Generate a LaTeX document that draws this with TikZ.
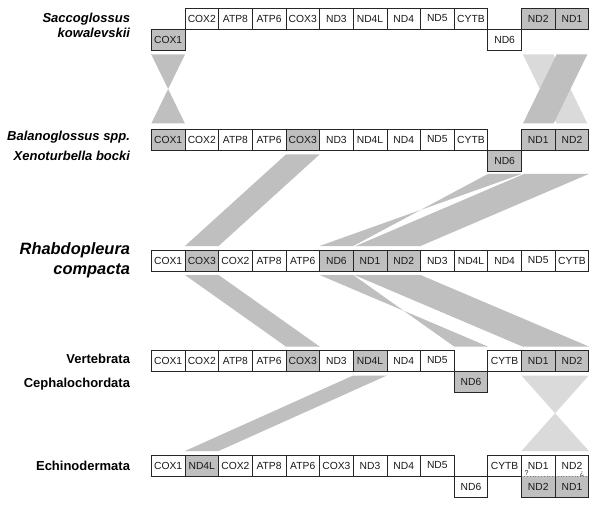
\documentclass[tikz,border=0pt]{standalone}
\usepackage{fontspec}
\setmainfont{Liberation Sans}
\usetikzlibrary{calc}
\definecolor{boxgray}{gray}{0.75}
\definecolor{bandgray}{gray}{0.75}
\definecolor{lightband}{gray}{0.855}
\tikzset{
  boxline/.style={draw=black!85, line width=0.7bp},
  gene/.style={boxline, minimum width=33.65bp, minimum height=21bp, inner sep=0pt, outer sep=0pt,
    anchor=north west, font=\fontsize{10.3bp}{12bp}\selectfont, text=black!90},
  hl/.style={gene, fill=boxgray},
  species/.style={font=\fontsize{13bp}{14.5bp}\selectfont\bfseries\itshape, inner sep=0pt, outer sep=0pt},
  bigspecies/.style={font=\fontsize{16.4bp}{19.8bp}\selectfont\bfseries\itshape, inner sep=0pt, outer sep=0pt},
  taxon/.style={font=\fontsize{13bp}{14.5bp}\selectfont\bfseries, inner sep=0pt, outer sep=0pt},
  band/.style={fill=bandgray},
  lband/.style={fill=lightband},
  tiny/.style={font=\fontsize{7bp}{8bp}\selectfont, inner sep=0pt, outer sep=0pt, text=black!85},
}
\begin{document}
\begin{tikzpicture}[x=1bp,y=-1bp]
\useasboundingbox (0,0) rectangle (600,505);
\fill[white] (0,0) rectangle (600,505);

% ---------- labels ----------
\node[species, anchor=north east, align=right] (sacc) at (130,13.3) {Saccoglossus\\kowalevskii};
\node[species, anchor=base east] (bala) at (130,140.3) {Balanoglossus spp.};
\node[species, anchor=base east] (xeno) at (130,160.5) {Xenoturbella bocki};
\node[bigspecies, anchor=north east, align=right] (rhab) at (130,242.7) {Rhabdopleura\\compacta};
\node[taxon, anchor=base east] (vert) at (130,363.3) {Vertebrata};
\node[taxon, anchor=base east] (ceph) at (130,387) {Cephalochordata};
\node[taxon, anchor=base east] (echi) at (130,470) {Echinodermata};

% ---------- row 1: Saccoglossus ----------
\node[hl]   (r1cox1) at (151.3,29) {COX1};
\node[gene] (r1cox2) at (184.95,8) {COX2};
\node[gene] (r1atp8) at (218.6,8) {ATP8};
\node[gene] (r1atp6) at (252.25,8) {ATP6};
\node[gene] (r1cox3) at (285.9,8) {COX3};
\node[gene] (r1nd3)  at (319.55,8) {ND3};
\node[gene] (r1nd4l) at (353.2,8) {ND4L};
\node[gene] (r1nd4)  at (386.85,8) {ND4};
\node[gene] (r1nd5)  at (420.5,8) {ND5};
\node[gene] (r1cytb) at (454.15,8) {CYTB};
\node[gene] (r1nd6)  at (487.8,29) {ND6};
\node[hl]   (r1nd2)  at (521.45,8) {ND2};
\node[hl]   (r1nd1)  at (555.1,8) {ND1};

% ---------- row 2: Balanoglossus / Xenoturbella ----------
\node[hl]   (r2cox1) at (151.3,129) {COX1};
\node[gene] (r2cox2) at (184.95,129) {COX2};
\node[gene] (r2atp8) at (218.6,129) {ATP8};
\node[gene] (r2atp6) at (252.25,129) {ATP6};
\node[hl]   (r2cox3) at (285.9,129) {COX3};
\node[gene] (r2nd3)  at (319.55,129) {ND3};
\node[gene] (r2nd4l) at (353.2,129) {ND4L};
\node[gene] (r2nd4)  at (386.85,129) {ND4};
\node[gene] (r2nd5)  at (420.5,129) {ND5};
\node[gene] (r2cytb) at (454.15,129) {CYTB};
\node[hl]   (r2nd6)  at (487.8,150) {ND6};
\node[hl]   (r2nd1)  at (521.45,129) {ND1};
\node[hl]   (r2nd2)  at (555.1,129) {ND2};

% ---------- row 3: Rhabdopleura ----------
\node[gene] (r3cox1) at (151.3,250) {COX1};
\node[hl]   (r3cox3) at (184.95,250) {COX3};
\node[gene] (r3cox2) at (218.6,250) {COX2};
\node[gene] (r3atp8) at (252.25,250) {ATP8};
\node[gene] (r3atp6) at (285.9,250) {ATP6};
\node[hl]   (r3nd6)  at (319.55,250) {ND6};
\node[hl]   (r3nd1)  at (353.2,250) {ND1};
\node[hl]   (r3nd2)  at (386.85,250) {ND2};
\node[gene] (r3nd3)  at (420.5,250) {ND3};
\node[gene] (r3nd4l) at (454.15,250) {ND4L};
\node[gene] (r3nd4)  at (487.8,250) {ND4};
\node[gene] (r3nd5)  at (521.45,250) {ND5};
\node[gene] (r3cytb) at (555.1,250) {CYTB};

% ---------- row 4: Vertebrata / Cephalochordata ----------
\node[gene] (r4cox1) at (151.3,350) {COX1};
\node[gene] (r4cox2) at (184.95,350) {COX2};
\node[gene] (r4atp8) at (218.6,350) {ATP8};
\node[gene] (r4atp6) at (252.25,350) {ATP6};
\node[hl]   (r4cox3) at (285.9,350) {COX3};
\node[gene] (r4nd3)  at (319.55,350) {ND3};
\node[hl]   (r4nd4l) at (353.2,350) {ND4L};
\node[gene] (r4nd4)  at (386.85,350) {ND4};
\node[gene] (r4nd5)  at (420.5,350) {ND5};
\node[hl]   (r4nd6)  at (454.15,371) {ND6};
\node[gene] (r4cytb) at (487.8,350) {CYTB};
\node[hl]   (r4nd1)  at (521.45,350) {ND1};
\node[hl]   (r4nd2)  at (555.1,350) {ND2};

% ---------- row 5: Echinodermata ----------
\node[gene] (r5cox1) at (151.3,455) {COX1};
\node[hl]   (r5nd4l) at (184.95,455) {ND4L};
\node[gene] (r5cox2) at (218.6,455) {COX2};
\node[gene] (r5atp8) at (252.25,455) {ATP8};
\node[gene] (r5atp6) at (285.9,455) {ATP6};
\node[gene] (r5cox3) at (319.55,455) {COX3};
\node[gene] (r5nd3)  at (353.2,455) {ND3};
\node[gene] (r5nd4)  at (386.85,455) {ND4};
\node[gene] (r5nd5)  at (420.5,455) {ND5};
\node[gene] (r5nd6)  at (454.15,476) {ND6};
\node[gene] (r5cytb) at (487.8,455) {CYTB};
\node[gene, draw=none] (r5nd1a) at (521.45,455) {ND1};
\node[gene, draw=none] (r5nd2a) at (555.1,455) {ND2};
\node[gene, draw=none, fill=boxgray] (r5nd2b) at (521.45,476) {ND2};
\node[gene, draw=none, fill=boxgray] (r5nd1b) at (555.1,476) {ND1};
\draw[gray, dotted, line width=0.8bp] (r5nd1a.south west) -- (r5nd2a.south east);
\draw[boxline] (r5nd1a.north west) rectangle (r5nd2b.south east);
\draw[boxline] (r5nd2a.north west) rectangle (r5nd1b.south east);
\node[tiny] (q1) at (526.5,473.5) {?};
\node[tiny] (q2) at (582,474.5) {¿};

% ---------- levels of the bands ----------
\coordinate (t12) at (0,54.5);
\coordinate (b12) at (0,123.5);
\coordinate (t23a) at (0,154.5);
\coordinate (t23b) at (0,174);
\coordinate (b23) at (0,246);
\coordinate (t34) at (0,275);
\coordinate (b34) at (0,346.5);
\coordinate (t45) at (0,375.5);
\coordinate (b45) at (0,451);

% ---------- bands row 1 -> row 2 ----------
\fill[band] (r1cox1.west|-t12) -- (r1cox1.east|-t12) -- (r2cox1.west|-b12) -- (r2cox1.east|-b12) -- cycle;
\fill[lband] ($(r1nd2.west|-t12)+(1.5,0)$) -- ($(r1nd2.east|-t12)+(-1.5,0)$)
   -- ($(r2nd2.east|-b12)+(-1.5,0)$) -- ($(r2nd2.west|-b12)+(1.5,0)$) -- cycle;
\fill[band] ($(r1nd1.west|-t12)+(1.5,0)$) -- ($(r1nd1.east|-t12)+(-1.5,0)$)
   -- ($(r2nd1.east|-b12)+(-1.5,0)$) -- ($(r2nd1.west|-b12)+(1.5,0)$) -- cycle;

% ---------- bands row 2 -> row 3 ----------
\fill[band] (r2cox3.west|-t23a) -- (r2cox3.east|-t23a) -- (r3cox3.east|-b23) -- (r3cox3.west|-b23) -- cycle;
\fill[band] (r2nd6.west|-t23b) -- (r2nd6.east|-t23b) -- (r3nd6.west|-b23) -- (r3nd6.east|-b23) -- cycle;
\fill[band] ($(r2nd1.west|-t23b)+(2.5,0)$) -- (r2nd2.east|-t23b) -- (r3nd2.east|-b23) -- ($(r3nd1.west|-b23)+(2.5,0)$) -- cycle;

% ---------- bands row 3 -> row 4 ----------
\fill[band] (r3cox3.west|-t34) -- (r3cox3.east|-t34) -- (r4cox3.east|-b34) -- (r4cox3.west|-b34) -- cycle;
\fill[band] (r3nd6.west|-t34) -- (r3nd6.east|-t34) -- (r4nd6.west|-b34) -- (r4nd6.east|-b34) -- cycle;
\fill[band] ($(r3nd1.west|-t34)+(1,0)$) -- (r3nd2.east|-t34) -- (r4nd2.east|-b34) -- ($(r4nd1.west|-b34)+(1,0)$) -- cycle;

% ---------- bands row 4 -> row 5 ----------
\fill[band] (r4nd4l.west|-t45) -- (r4nd4l.east|-t45) -- (r5nd4l.east|-b45) -- (r5nd4l.west|-b45) -- cycle;
\fill[lband] (r4nd1.west|-t45) -- (r4nd2.east|-t45) -- (r5nd2b.west|-b45) -- (r5nd1b.east|-b45) -- cycle;
\end{tikzpicture}
\end{document}
